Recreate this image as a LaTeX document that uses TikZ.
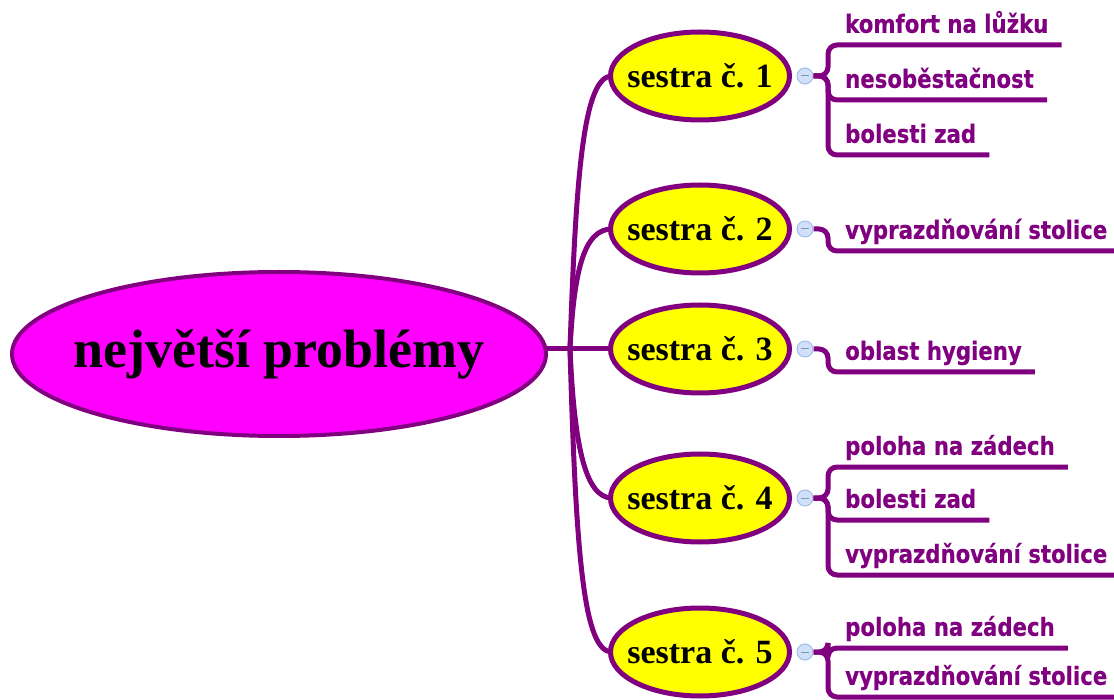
\documentclass[tikz,border=0pt]{standalone}
\usepackage{fontspec}
\setmainfont{Liberation Serif}
\newfontfamily\leaffont{DejaVu Sans}[FakeStretch=0.85,FakeBold=0.4]
\usetikzlibrary{shapes.geometric}
\definecolor{mmpurple}{RGB}{128,0,128}
\definecolor{mmmagenta}{RGB}{255,0,255}
\definecolor{mmyellow}{RGB}{255,255,0}
\definecolor{btnfill}{RGB}{208,224,248}
\definecolor{btnline}{RGB}{160,190,232}
\definecolor{btnminus}{RGB}{130,150,185}
% centred label that does not widen its ellipse
\newcommand{\inlabel}[1]{\makebox[0pt]{#1}}
\begin{document}
\begin{tikzpicture}[x=1pt,y=-1pt,
  root/.style={ellipse, draw=mmpurple, line width=4pt, fill=mmmagenta,
    minimum width=534pt, minimum height=164pt, inner sep=0pt,
    font=\bfseries\fontsize{54}{54}\selectfont},
  nurse/.style={ellipse, draw=mmpurple, line width=5pt, fill=mmyellow,
    minimum width=179pt, minimum height=88pt, inner sep=0pt,
    font=\bfseries\fontsize{34}{34}\selectfont},
  toggle/.style={circle, draw=btnline, line width=1pt, fill=btnfill,
    minimum size=16pt, inner sep=0pt,
    path picture={\draw[btnminus, line width=1pt]
      ([xshift=-4pt]path picture bounding box.center) --
      ([xshift=4pt]path picture bounding box.center);}},
  leaf/.style={anchor=south west, inner xsep=13pt, inner ysep=12pt,
    text depth=0pt, text=mmpurple,
    font=\leaffont\bfseries\fontsize{25}{25}\selectfont},
  branch/.style={draw=mmpurple, line width=5pt},
  twig/.style={draw=mmpurple, line width=5pt, rounded corners=9pt},
]
\useasboundingbox (0,0) rectangle (1114,700);

% the hub where the branches meet
\coordinate (hub) at (570,349);

% branches from the hub (drawn first so the ellipses cover their ends)
\draw[branch] (hub) .. controls (576,170) and (584,76) .. (612,76);
\draw[branch] (hub) .. controls (574,270) and (584,229) .. (612,229);
\draw[branch] (hub) .. controls (574,440) and (584,498) .. (612,498);
\draw[branch] (hub) .. controls (576,560) and (584,652) .. (612,652);
\draw[branch] (540,349) -- (612,349);

\node[root] (root) at (279,354) {\inlabel{největší problémy}};

\node[nurse] (s1) at (700,76)  {\inlabel{sestra č. 1}};
\node[nurse] (s2) at (700,229) {\inlabel{sestra č. 2}};
\node[nurse] (s3) at (700,349) {\inlabel{sestra č. 3}};
\node[nurse] (s4) at (700,498) {\inlabel{sestra č. 4}};
\node[nurse] (s5) at (700,652) {\inlabel{sestra č. 5}};

% collapse buttons
\node[toggle] (t1) at (805,76)  {};
\node[toggle] (t2) at (805,229) {};
\node[toggle] (t3) at (805,349) {};
\node[toggle] (t4) at (805,498) {};
\node[toggle] (t5) at (805,652) {};

% bracket corners
\coordinate (j1) at (828,76);
\coordinate (j2) at (828,229);
\coordinate (j3) at (828,349);
\coordinate (j4) at (828,498);
\coordinate (j5) at (828,652);

% leaf topics
\node[leaf] (l11) at (832,45)  {komfort na lůžku};
\node[leaf] (l12) at (832,100) {nesoběstačnost};
\node[leaf] (l13) at (832,155) {bolesti zad};
\node[leaf] (l21) at (832,251) {vyprazdňování stolice};
\node[leaf] (l31) at (832,372) {oblast hygieny};
\node[leaf] (l41) at (832,467) {poloha na zádech};
\node[leaf] (l42) at (832,520) {bolesti zad};
\node[leaf] (l43) at (832,575) {vyprazdňování stolice};
\node[leaf] (l51) at (832,648) {poloha na zádech};
\node[leaf] (l52) at (832,697) {vyprazdňování stolice};

% brackets with underlines
\draw[twig] (t1.east) -- (j1) |- (l11.south east);
\draw[twig] (t1.east) -- (j1) |- (l12.south east);
\draw[twig] (t1.east) -- (j1) |- (l13.south east);
\draw[twig] (t2.east) -- (j2) |- (l21.south east);
\draw[twig] (t3.east) -- (j3) |- (l31.south east);
\draw[twig] (t4.east) -- (j4) |- (l41.south east);
\draw[twig] (t4.east) -- (j4) |- (l42.south east);
\draw[twig] (t4.east) -- (j4) |- (l43.south east);
\draw[twig] (t5.east) -- (j5) |- (l51.south east);
\draw[twig] (t5.east) -- (j5) |- (l52.south east);
\end{tikzpicture}
\end{document}
